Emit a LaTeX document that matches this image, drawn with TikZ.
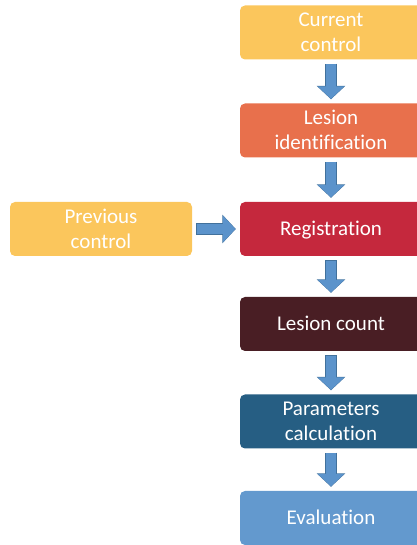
\documentclass[tikz,border=0pt]{standalone}
\usepackage{fontspec}
\setmainfont[Ligatures=NoCommon]{Carlito}
\usetikzlibrary{arrows.meta}

\definecolor{cYellow}{RGB}{251,198,92}
\definecolor{cOrange}{RGB}{232,112,76}
\definecolor{cRed}{RGB}{197,40,61}
\definecolor{cMaroon}{RGB}{73,30,36}
\definecolor{cTeal}{RGB}{38,94,131}
\definecolor{cSky}{RGB}{99,153,206}
\definecolor{cArrow}{RGB}{91,147,203}
\definecolor{cArrowEdge}{RGB}{65,113,156}

\tikzset{
  stage/.style={rounded corners=5pt, minimum width=182pt, minimum height=54pt,
    align=center, text=white, font=\fontsize{21}{25}\selectfont, inner sep=2pt,
    text depth=1pt},
  flow/.style={cArrow, line width=10pt, shorten <=4.5pt, shorten >=4.5pt,
    -{Triangle[width=26pt,length=12.5pt]},
    preaction={draw=cArrowEdge, line width=11.5pt, shorten <=4pt, shorten >=4pt,
      -{Triangle[width=28pt,length=13.5pt]}}}
}

\begin{document}
\begin{tikzpicture}[x=1pt,y=1pt]
\useasboundingbox (0,0) rectangle (416,545);
%\draw[step=10,very thin,color=gray] (0,0) grid (416,545);
\node[stage,fill=cYellow] (cur) at (331,512.5) {Current\\control};
\node[stage,fill=cOrange] (lesid) at (331,414.5) {Lesion\\identification};
\node[stage,fill=cRed] (reg) at (331,316) {Registration};
\node[stage,fill=cYellow] (prev) at (101,316) {Previous\\control};
\node[stage,fill=cMaroon] (count) at (331,221) {Lesion count};
\node[stage,fill=cTeal] (param) at (331,123.5) {Parameters\\calculation};
\node[stage,fill=cSky] (eval) at (331,27) {Evaluation};
% flow of the pipeline
\draw[flow] (cur) -- (lesid);
\draw[flow] (lesid) -- (reg);
\draw[flow] (prev) -- (reg);
\draw[flow] (reg) -- (count);
\draw[flow] (count) -- (param);
\draw[flow] (param) -- (eval);
\end{tikzpicture}
\end{document}
